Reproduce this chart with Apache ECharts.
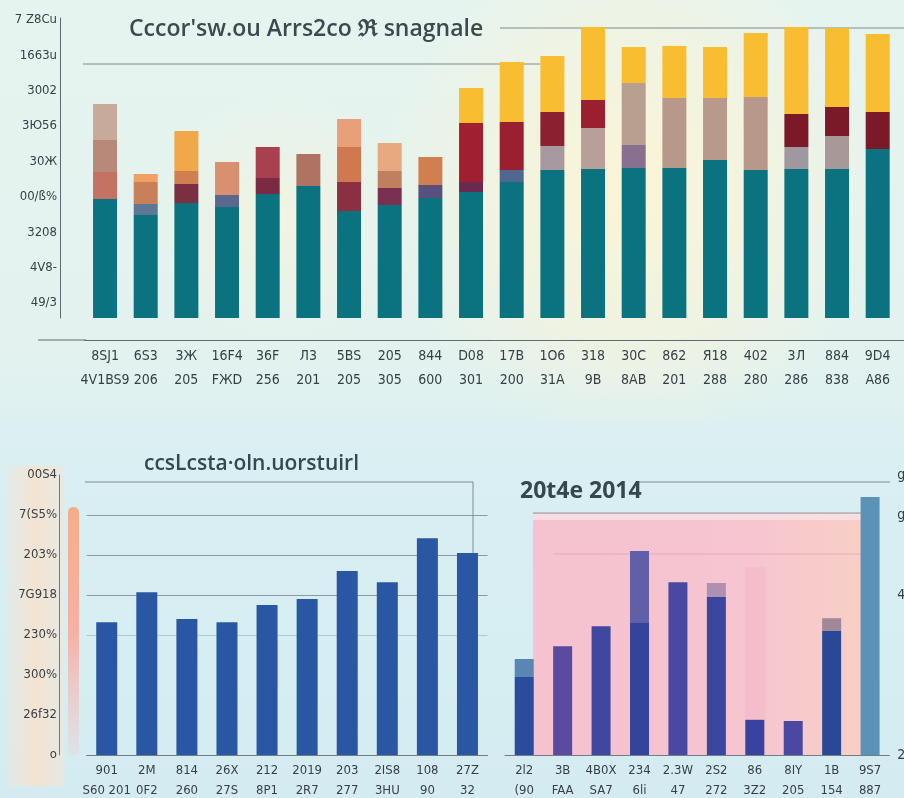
<!DOCTYPE html>
<html><head><meta charset="utf-8">
<script src="https://cdn.jsdelivr.net/npm/echarts@6/dist/echarts.min.js"></script>
<style>html,body{margin:0;padding:0;background:#e3f2f0;}#c{width:904px;height:798px;}</style>
</head><body><div id="c"></div>
<script>
// ---------- DATA ----------
const topRow1 = ['8SJ1','6S3','3Ж','16F4','36F','Л3','5BS','205','844','D08','17B','1O6','318','30C','862','Я18','402','3Л','884','9D4','S'];
const topRow2 = ['4V1BS9','206','205','FЖD','256','201','205','305','600','301','200','31A','9B','8AB','201','288','280','286','838','A86','S'];
const topBase   = [119,103,115,111,124,132,107,113,120,126,136,148,149,150,150,158,148,149,149,169,null];
const topLayer2 = [27,11,19,12,16,32,29,17,13,10,12,24,41,23,70,62,73,22,33,37,null];
const topLayer3 = [32,22,13,33,31,null,35,17,28,59,48,34,28,62,52,51,64,33,29,78,null];
const topLayer4 = [36,8,40,null,null,null,28,28,null,35,60,56,73,36,null,null,null,87,79,null,null];
const topYLabels = ['49/3','4V8-','3208','00/ß%','30Ж','3Ю56','3002','1663u','7 Z8Cu'];

const blRow1 = ['901','2M','814','26X','212','2019','203','2IS8','108','27Z'];
const blRow2 = ['S60 201','0F2','260','27S','8P1','2R7','277','3HU','90','32'];
const blValues = [332,407,340,332,375,390,460,432,542,505];
const blYLabels = ['o','26f32','300%','230%','7G918','203%','7(S5%','00S4'];

const brRow1 = ['2l2','3B','4B0X','234','2.3W','2S2','86','8IY','1B','9S7'];
const brRow2 = ['(90','FAA','SA7','6li','47','272','3Z2','205','154','887'];
const brMain = [195,272,322,330,432,395,88,85,310,645];
const brCap  = [45,null,null,180,null,35,null,null,32,null];
const brGhost = [null,null,null,null,null,null,470,null,null,null];
const brYLabels = ['2','','','','4','','g','g'];

// ---------- STYLE ----------
const FONT = "'Liberation Sans Narrow','DejaVu Sans Condensed','Liberation Sans',sans-serif";
const TXT = '#363f46';
const TEAL = '#0b7380';
const Y = '#f8bd30';
const c2 = ['#c47262','#5d7894','#7a3042','#5a6890','#7a2a42','#b07262','#8a3042','#7a3050','#5a5080','#6a2a50','#506890','#a898a0','#b8a098','#8a7090','#b8988a','#b89a8c','#b8988a','#a098a0','#a89898','#7a1a28',null];
const c3 = ['#b88878','#c88058','#d08050','#d89070','#a84050',null,'#d07850','#c08060','#d08050','#a02030','#9a2030','#8a2030','#9a2030','#b8a090',Y,Y,Y,'#7a1a28','#7a1a28',Y,null];
const c4 = ['#c8aa9a','#f0a060','#f0a848',null,null,null,'#e8a078','#e8a880',null,Y,Y,Y,Y,Y,null,null,null,Y,Y,null,null];
const brMainC = ['#2a4c9c','#5a4aa0','#3f47a0','#34449c','#4a48a2','#3a46a0','#3a42a0','#4a48a2','#2a4896','#5b93b8'];
const brCapC = ['#5a86b4',null,null,'#6060a8',null,'#b090b0',null,null,'#a08898',null];

function items(vals, colors){
  return vals.map((v,i)=> v==null ? null : {value:v, itemStyle:{color:colors[i]}});
}
const topCats = topRow1.map((r,i)=> r + '\n' + topRow2[i]);
const blCats = blRow1.map((r,i)=> r + '\n' + blRow2[i]);
const brCats = brRow1.map((r,i)=> r + '\n' + brRow2[i]);

const lin = (x,y,x2,y2,stops)=>({type:'linear',x:x,y:y,x2:x2,y2:y2,colorStops:stops.map(s=>({offset:s[0],color:s[1]}))});
const rad = (x,y,r,stops)=>({type:'radial',x:x,y:y,r:r,colorStops:stops.map(s=>({offset:s[0],color:s[1]}))});
const hline = (x1,y1,x2,y2,c,w)=>({type:'line',z:1,silent:true,shape:{x1,y1,x2,y2},style:{stroke:c||'#7e8c8e',lineWidth:w||1}});

const chart = echarts.init(document.getElementById('c'), null, {renderer:'canvas'});
const axLabel = (extra)=>Object.assign({color:TXT,fontFamily:FONT,fontSize:14},extra);

chart.setOption({
  animation:false,
  title:[
    {text:"Cccor'sw.ou Arrs2co ℜ snagnale", left:124, top:13, textStyle:{fontFamily:"'Open Sans',sans-serif",fontSize:23,fontWeight:600,color:'#3c4a50'}},
    {text:'ccsLcsta·oln.uorstuirl', left:139, top:449, textStyle:{fontFamily:"'Open Sans',sans-serif",fontSize:21,fontWeight:600,color:'#2f4a50'}},
    {text:'20t4e 2014', left:515, top:475, textStyle:{fontFamily:"'Open Sans',sans-serif",fontSize:23,fontWeight:700,color:'#36474d'}}
  ],
  graphic:[
    {type:'rect',z:-10,silent:true,shape:{x:0,y:0,width:904,height:798},style:{fill:lin(0,0,0,1,[[0,'#e6f4ef'],[0.45,'#e3f2ef'],[0.58,'#d9eff2'],[1,'#d4ecf1']])}},
    {type:'rect',z:-9,silent:true,shape:{x:300,y:0,width:604,height:420},style:{fill:rad(0.55,0.45,0.6,[[0,'rgba(253,245,212,0.95)'],[0.55,'rgba(250,244,214,0.55)'],[1,'rgba(250,244,214,0)']])}},
    {type:'rect',z:-9,silent:true,shape:{x:40,y:90,width:480,height:260},style:{fill:rad(0.5,0.5,0.5,[[0,'rgba(250,244,214,0.6)'],[1,'rgba(250,244,214,0)']])}},
    {type:'rect',z:-8,silent:true,shape:{x:8,y:466,width:56,height:320},style:{fill:lin(0,0,1,0,[[0,'rgba(248,228,208,0.3)'],[0.5,'rgba(247,226,206,0.9)'],[1,'rgba(246,228,212,0.5)']])}},
    {type:'rect',z:-7,silent:true,shape:{x:68,y:507,width:11,height:248,r:[5,5,0,0]},style:{fill:lin(0,0,0,1,[[0,'#f6ae88'],[0.5,'#f7b0a4'],[1,'rgba(248,190,190,0.2)']])}},
    {type:'rect',z:-7,silent:true,shape:{x:533,y:513,width:330,height:242},style:{fill:lin(0,0,1,0,[[0,'#f5c2cf'],[0.65,'#f6c5d0'],[1,'#f8cfc6']])}},
    {type:'rect',z:-6,silent:true,shape:{x:533,y:514,width:330,height:6},style:{fill:'#f9dde0'}},
    hline(553,554,863,554,'rgba(210,150,165,0.5)'),
    hline(533,513,863,513,'#8e9ca0'),
    hline(83,64,540,64),
    hline(500,28,904,28),
    hline(38,340,86,340,'#5d6a70'),
    hline(85,482,473,482,'#7e8c90'),
    hline(473,482,473,595,'#7e8c90'),
    hline(637,482,890,482,'#7e8c90')
  ],
  grid:[
    {left:84.7, right:-34.7, top:18, bottom:480, outerBoundsMode:'none'},
    {left:86.7, right:416.5, top:475, bottom:43, outerBoundsMode:'none'},
    {left:505, right:14.7, top:475, bottom:43, outerBoundsMode:'none'},
    {left:60, width:10, top:19.8, bottom:495, outerBoundsMode:'none'}
  ],
  xAxis:[
    {type:'category', gridIndex:0, data:topCats, offset:22,
     axisLine:{onZero:false,lineStyle:{color:'#5d6a70'}},
     axisTick:{inside:true,length:20,alignWithLabel:true,lineStyle:{color:'#4a5560'}},
     axisLabel:axLabel({margin:4,lineHeight:24,interval:0}), splitLine:{show:false}},
    {type:'category', gridIndex:1, data:blCats,
     axisLine:{onZero:false,lineStyle:{color:'#6e7e84'}}, axisTick:{show:false},
     axisLabel:axLabel({fontSize:13,margin:6,lineHeight:20,interval:0}), splitLine:{show:false}},
    {type:'category', gridIndex:2, data:brCats,
     axisLine:{onZero:false,lineStyle:{color:'#6e7e84'}}, axisTick:{show:false},
     axisLabel:axLabel({fontSize:13,margin:6,lineHeight:20,interval:0}), splitLine:{show:false}},
    {type:'category', gridIndex:3, data:[''], show:false}
  ],
  yAxis:[
    {type:'value', gridIndex:0, position:'left', min:0, max:300, offset:24.7,
     axisLine:{show:true,lineStyle:{color:'#5d6a70'}}, axisTick:{show:false}, axisLabel:{show:false}, splitLine:{show:false}},
    {type:'category', gridIndex:3, position:'left', data:topYLabels, boundaryGap:false,
     axisLine:{show:false}, axisTick:{show:false}, splitLine:{show:false},
     axisLabel:axLabel({fontSize:13,margin:3,interval:0})},
    {type:'value', gridIndex:1, position:'left', min:0, max:700, interval:100, offset:27.7,
     axisLine:{show:true,lineStyle:{color:'#6e7e84'}}, axisTick:{show:false},
     splitLine:{show:true,lineStyle:{width:1,color:['rgba(0,0,0,0)','rgba(0,0,0,0)','rgba(0,0,0,0)','rgba(110,130,135,0.35)','#8a9a9e','#8a9a9e','#8a9a9e','rgba(0,0,0,0)']}},
     axisLabel:axLabel({fontSize:13,margin:2,formatter:v=>blYLabels[Math.round(v/100)]||''})},
    {type:'value', gridIndex:2, position:'right', min:0, max:700, interval:100,
     axisLine:{show:false}, axisTick:{show:false}, splitLine:{show:false},
     axisLabel:axLabel({fontSize:14,margin:8,formatter:v=>brYLabels[Math.round(v/100)]||''})}
  ],
  series:[
    {type:'bar', xAxisIndex:0, yAxisIndex:0, stack:'t', barWidth:24, data:items(topBase, topBase.map(()=>TEAL))},
    {type:'bar', xAxisIndex:0, yAxisIndex:0, stack:'t', barWidth:24, data:items(topLayer2, c2)},
    {type:'bar', xAxisIndex:0, yAxisIndex:0, stack:'t', barWidth:24, data:items(topLayer3, c3)},
    {type:'bar', xAxisIndex:0, yAxisIndex:0, stack:'t', barWidth:24, data:items(topLayer4, c4)},
    {type:'bar', xAxisIndex:1, yAxisIndex:2, barWidth:21, data:blValues, itemStyle:{color:'#2957a4'}},
    {type:'bar', xAxisIndex:2, yAxisIndex:3, barWidth:20, barGap:'-100%', z:1, data:brGhost, itemStyle:{color:'rgba(246,176,196,0.4)'}},
    {type:'bar', xAxisIndex:2, yAxisIndex:3, stack:'b', barWidth:19, z:2, data:items(brMain, brMainC)},
    {type:'bar', xAxisIndex:2, yAxisIndex:3, stack:'b', barWidth:19, z:2, data:items(brCap, brCapC)}
  ]
});
</script></body></html>
